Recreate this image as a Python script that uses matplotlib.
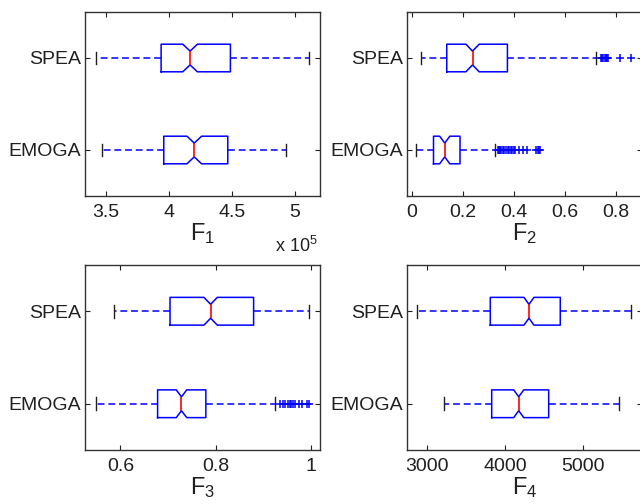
import matplotlib
matplotlib.use('Agg')
import matplotlib.pyplot as plt
from matplotlib.ticker import FuncFormatter, FixedLocator

plt.rcParams['font.family'] = ['Liberation Sans', 'DejaVu Sans']
plt.rcParams['mathtext.default'] = 'regular'

groups = ['EMOGA', 'SPEA']            # bottom, top
stat_names = ['whislo', 'q1', 'med', 'q3', 'whishi']

# F1 (raw units)
F1_SPEA = [3.418e5, 3.937e5, 4.167e5, 4.487e5, 5.113e5]
F1_EMOGA = [3.466e5, 3.958e5, 4.200e5, 4.466e5, 4.926e5]
F1_NOTCH = [0.058e5, 0.058e5]        # SPEA, EMOGA
F1_FLIERS_SPEA = []
F1_FLIERS_EMOGA = []
F1_TICKS = [3.5e5, 4.0e5, 4.5e5, 5.0e5]

# F2
F2_SPEA = [0.034, 0.136, 0.237, 0.374, 0.720]
F2_EMOGA = [0.017, 0.084, 0.128, 0.188, 0.324]
F2_NOTCH = [0.026, 0.020]
F2_FLIERS_SPEA = [0.740, 0.745, 0.750, 0.755, 0.760, 0.765, 0.770, 0.815, 0.857]
F2_FLIERS_EMOGA = [0.338, 0.342, 0.346, 0.350, 0.355, 0.360, 0.368, 0.375, 0.382,
                   0.388, 0.393, 0.398, 0.405, 0.420, 0.437, 0.450,
                   0.488, 0.493, 0.498, 0.503]
F2_TICKS = [0, 0.2, 0.4, 0.6, 0.8]

# F3
F3_SPEA = [0.587, 0.704, 0.789, 0.879, 0.995]
F3_EMOGA = [0.548, 0.678, 0.728, 0.779, 0.924]
F3_NOTCH = [0.014, 0.011]
F3_FLIERS_SPEA = []
F3_FLIERS_EMOGA = [0.935, 0.940, 0.945, 0.950, 0.955, 0.958, 0.962, 0.966,
                   0.975, 0.980, 0.990, 0.996]
F3_TICKS = [0.6, 0.8, 1.0]

# F4
F4_SPEA = [2874, 3812, 4306, 4706, 5607]
F4_EMOGA = [3220, 3830, 4175, 4558, 5450]
F4_NOTCH = [64, 64]
F4_FLIERS_SPEA = []
F4_FLIERS_EMOGA = []
F4_TICKS = [3000, 4000, 5000]


def make_stats(vals, notch, fliers):
    d = dict(zip(stat_names, vals))
    d['cilo'] = d['med'] - notch
    d['cihi'] = d['med'] + notch
    d['fliers'] = fliers
    return d


fig = plt.figure(figsize=(6.4, 5.04), dpi=100)
W, H = 640.0, 504.0

panels = [
    (85, 12, 320, 196, F1_SPEA, F1_EMOGA, F1_NOTCH, F1_FLIERS_SPEA, F1_FLIERS_EMOGA,
     F1_TICKS, (3.333e5, 5.198e5), 'F$_1$', lambda v, p: '%g' % (v / 1e5)),
    (407, 12, 642, 196, F2_SPEA, F2_EMOGA, F2_NOTCH, F2_FLIERS_SPEA, F2_FLIERS_EMOGA,
     F2_TICKS, (-0.02, 0.902), 'F$_2$', lambda v, p: '%g' % v),
    (85, 265, 320, 450, F3_SPEA, F3_EMOGA, F3_NOTCH, F3_FLIERS_SPEA, F3_FLIERS_EMOGA,
     F3_TICKS, (0.526, 1.018), 'F$_3$', lambda v, p: '%g' % v),
    (407, 265, 642, 450, F4_SPEA, F4_EMOGA, F4_NOTCH, F4_FLIERS_SPEA, F4_FLIERS_EMOGA,
     F4_TICKS, (2748, 5750), 'F$_4$', lambda v, p: '%g' % v),
]

for (l, t, r, b, sp, em, notch, fsp, fem, ticks, xlim, lab, fmt) in panels:
    ax = fig.add_axes([l / W, (H - b) / H, (r - l) / W, (b - t) / H])
    st = [make_stats(em, notch[1], fem), make_stats(sp, notch[0], fsp)]
    ax.bxp(st, positions=[1, 2], widths=0.3, orientation='horizontal',
           shownotches=True, showfliers=True, capwidths=0.14,
           boxprops=dict(color='blue', lw=1.1),
           whiskerprops=dict(color='blue', lw=1.1, linestyle=(0, (4.5, 2.5))),
           capprops=dict(color='#202020', lw=1.0),
           medianprops=dict(color='red', lw=1.2),
           flierprops=dict(marker='+', markeredgecolor='blue', markersize=6,
                           markeredgewidth=1.1, linestyle='none'))
    ax.set_xlim(*xlim)
    ax.set_ylim(0.5, 2.5)
    ax.xaxis.set_major_locator(FixedLocator(ticks))
    ax.xaxis.set_major_formatter(FuncFormatter(fmt))
    ax.set_yticks([1, 2])
    ax.set_yticklabels(groups)
    ax.tick_params(direction='in', top=True, right=True, length=3.5,
                   width=0.8, labelsize=14, colors='#202020')
    ax.tick_params(axis='x', pad=5.5)
    ax.tick_params(axis='y', pad=3)
    for s in ax.spines.values():
        s.set_color('#333333')
        s.set_linewidth(1.0)
    ax.set_xlabel(lab, fontsize=17, labelpad=0, color='#202020')
    if lab == 'F$_1$':
        ax.text(0.81, -0.27, 'x 10$^5$', transform=ax.transAxes,
                fontsize=13, color='#202020', ha='left', va='center')

fig.savefig('out.png', dpi=100)
